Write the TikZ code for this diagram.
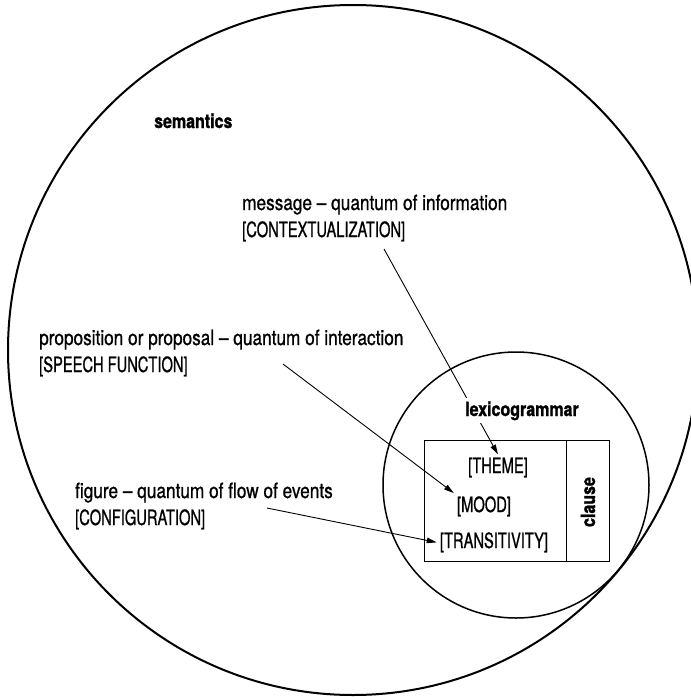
\documentclass[tikz,border=0pt]{standalone}
\usepackage{fontspec}
\setmainfont{TeX Gyre Heros}[FakeStretch=0.82, FakeBold=0.8, BoldFeatures={FakeBold=1.2}]
\newfontfamily\capsfont{TeX Gyre Heros}[FakeStretch=0.70, FakeBold=0.8]
\usetikzlibrary{arrows.meta}
\begin{document}
\begin{tikzpicture}[x=1pt,y=-1pt,
  lbl/.style={inner sep=0pt, anchor=base west, align=left, font=\fontsize{21}{27}\selectfont},
  boxtxt/.style={inner sep=3pt, anchor=base, font=\fontsize{21}{27}\selectfont\capsfont},
  boldlbl/.style={font=\fontsize{19.5}{24}\selectfont\bfseries},
  arr/.style={line width=0.9pt, -{Triangle[length=10pt,width=5.5pt]}},
  bigcirc/.style={line width=2pt},
  smallcirc/.style={line width=1.5pt},
  framebox/.style={line width=1pt}]
\useasboundingbox (0,0) rectangle (691,697);

% circles
\coordinate (semc) at (353,350);
\coordinate (lexc) at (516,485);
\draw[bigcirc] (semc) circle [radius=345pt];
\draw[smallcirc] (lexc) circle [radius=133pt];

% clause box
\coordinate (boxtl) at (424,440);
\coordinate (boxbr) at (609,561);
\coordinate (divt) at (566,440);
\coordinate (divb) at (566,561);
\draw[framebox] (boxtl) rectangle (boxbr);
\draw[framebox] (divt) -- (divb);

% texts in box
\node[boxtxt] (theme) at (498,473) {[THEME]};
\node[boxtxt] (mood) at (484,512) {[MOOD]};
\node[boxtxt] (trans) at (494,548) {[TRANSITIVITY]};
\node[boldlbl, rotate=90, anchor=base, inner sep=0pt] (clause) at (595,502) {clause};

% semantics label
\node[boldlbl, anchor=base west, inner sep=0pt] (sem) at (154,128) {semantics};

% labels (anchor on baseline of last line)
\node[lbl] (msg) at (242,237) {message – quantum of information\\{\capsfont [CONTEXTUALIZATION]}};
\node[lbl] (prop) at (39,372) {proposition or proposal – quantum of interaction\\{\capsfont [SPEECH FUNCTION]}};
\node[lbl] (fig) at (75,525) {figure – quantum of flow of events\\{\capsfont [CONFIGURATION]}};

% arrows
\coordinate (msgA) at (384,249);
\coordinate (propA) at (283,364);
\coordinate (figA) at (267,508);
\draw[arr] (msgA) -- (theme.north);
\draw[arr] (propA) -- (mood.north west);
\draw[arr] (figA) -- (trans.west);

% lexicogrammar label (covers the arrow)
\node[boldlbl, fill=white, inner sep=3pt, anchor=base] (lex) at (522,416) {lexicogrammar};
\end{tikzpicture}
\end{document}
